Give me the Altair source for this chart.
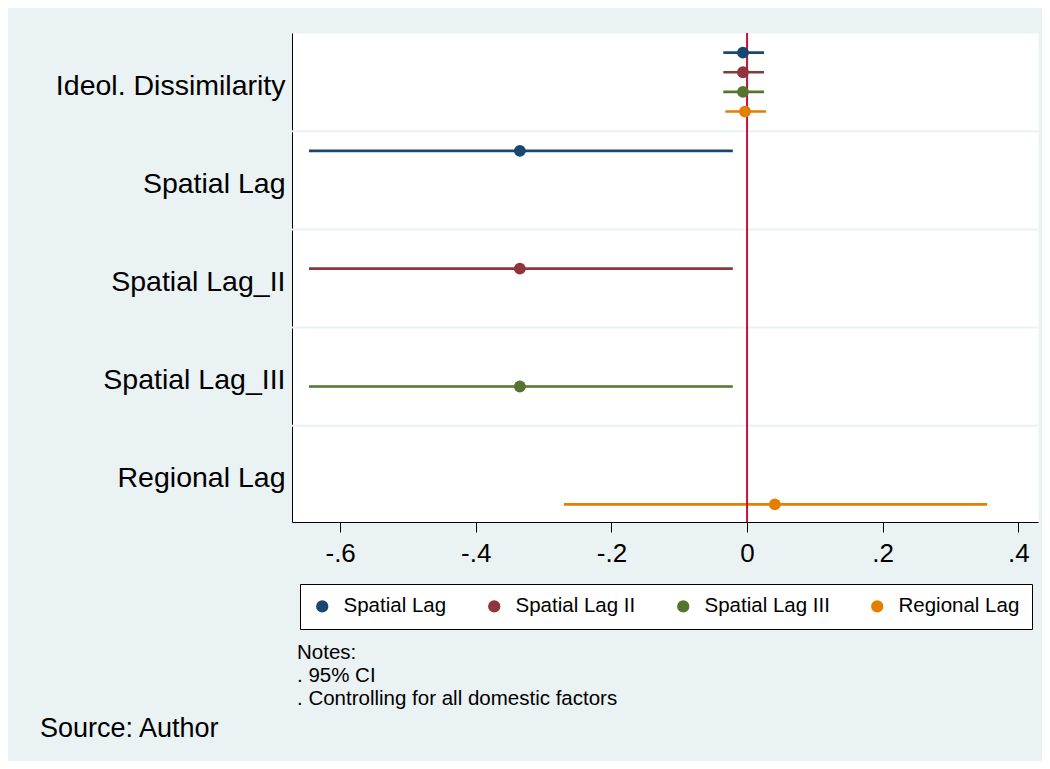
import altair as alt
import pandas as pd

# ---- data ----
models = ["Spatial Lag", "Spatial Lag II", "Spatial Lag III", "Regional Lag"]
colors = ["#1A476F", "#90353B", "#55752F", "#E37E00"]
variables = ["Ideol. Dissimilarity", "Spatial Lag", "Spatial Lag_II", "Spatial Lag_III", "Regional Lag"]
offsets = [-0.3, -0.1, 0.1, 0.3]

ideol_coef = [-0.006, -0.006, -0.006, -0.003]
ideol_lo = [-0.035, -0.035, -0.035, -0.032]
ideol_hi = [0.025, 0.025, 0.025, 0.028]
lag_coef = [-0.335, -0.335, -0.335, 0.041]
lag_lo = [-0.646, -0.646, -0.646, -0.270]
lag_hi = [-0.021, -0.021, -0.021, 0.354]
lag_var_index = [2, 3, 4, 5]

separators = [1.5, 2.5, 3.5, 4.5]
x_ticks = [-0.6, -0.4, -0.2, 0, 0.2, 0.4]
notes = ["Notes:", ". 95% CI", ". Controlling for all domestic factors"]
source = "Source: Author"

rows = []
for i, m in enumerate(models):
    rows.append({"model": m, "pos": 1 + offsets[i], "coef": ideol_coef[i],
                 "lo": ideol_lo[i], "hi": ideol_hi[i]})
    rows.append({"model": m, "pos": lag_var_index[i] + offsets[i], "coef": lag_coef[i],
                 "lo": lag_lo[i], "hi": lag_hi[i]})
df = pd.DataFrame(rows)

FONT = "Liberation Sans"

xscale = alt.Scale(domain=[-0.671, 0.429], nice=False, zero=False)
yscale = alt.Scale(domain=[0.5, 5.48], nice=False, zero=False, reverse=True)
cscale = alt.Scale(domain=models, range=colors)

label_array = "[" + ",".join("'" + v + "'" for v in variables) + "]"

xaxis = alt.Axis(
    values=x_ticks, title=None, grid=False,
    labelExpr="datum.value == 0 ? '0' : (datum.value < 0 ? '-' : '') + replace(format(abs(datum.value), '.1f'), '0.', '.')",
    labelFont=FONT, labelFontSize=26, labelColor="black", labelPadding=8,
    tickColor="black", tickSize=10, tickWidth=1,
    domainColor="black", domainWidth=1,
)
yaxis = alt.Axis(
    values=[1, 2, 3, 4, 5], title=None, grid=False, ticks=False,
    labelExpr=label_array + "[datum.value - 1]",
    labelFont=FONT, labelFontSize=28.5, labelColor="black", labelPadding=7,
    labelBaseline="middle", labelLimit=400, labelOffset=3,
    domainColor="black", domainWidth=1,
)

base = alt.Chart(df)

grid = alt.Chart(pd.DataFrame({"s": separators})).mark_rule(
    color="#EAF2F3", strokeWidth=2
).encode(y=alt.Y("s:Q", scale=yscale, axis=yaxis))

ci = base.mark_rule(strokeWidth=2.6).encode(
    x=alt.X("lo:Q", scale=xscale, axis=xaxis),
    x2="hi:Q",
    y=alt.Y("pos:Q", scale=yscale, axis=yaxis),
    stroke=alt.Stroke("model:N", scale=cscale, legend=None),
)

zero = alt.Chart(pd.DataFrame({"z": [0]})).mark_rule(
    color="#C8103C", strokeWidth=2
).encode(x=alt.X("z:Q", scale=xscale, axis=xaxis))

pts = base.mark_point(filled=True, size=140, opacity=1).encode(
    x=alt.X("coef:Q", scale=xscale, axis=xaxis),
    y=alt.Y("pos:Q", scale=yscale, axis=yaxis),
    fill=alt.Fill(
        "model:N", scale=cscale,
        legend=alt.Legend(
            orient="none", legendX=8, legendY=551, direction="horizontal", columns=4,
            title=None, fillColor="white", strokeColor="black", padding=12,
            labelFont=FONT, labelFontSize=20.5, labelColor="black",
            symbolType="circle", symbolSize=150, symbolStrokeWidth=0, symbolOpacity=1,
            labelOffset=11, columnPadding=37, rowPadding=0,
        ),
    ),
)

one = pd.DataFrame({"t": [0]})
notes_txt = alt.Chart(one).mark_text(
    align="left", baseline="alphabetic", font=FONT, fontSize=20.5, lineHeight=23, color="black"
).encode(x=alt.value(5), y=alt.value(626), text=alt.value(notes))

source_txt = alt.Chart(one).mark_text(
    align="left", baseline="alphabetic", font=FONT, fontSize=27, color="black"
).encode(x=alt.value(-252), y=alt.value(704), text=alt.value(source))

chart = alt.layer(grid, ci, zero, pts, notes_txt, source_txt).resolve_legend(
    stroke="independent", fill="independent"
).properties(
    width=746, height=489,
    background="#EAF2F3",
    padding={"left": 284, "top": 25, "right": 4, "bottom": 239},
    autosize=alt.AutoSizeParams(type="none"),
).configure_view(fill="white", stroke="transparent")

chart.save("out.html", embed_options={"renderer": "svg", "actions": False})
